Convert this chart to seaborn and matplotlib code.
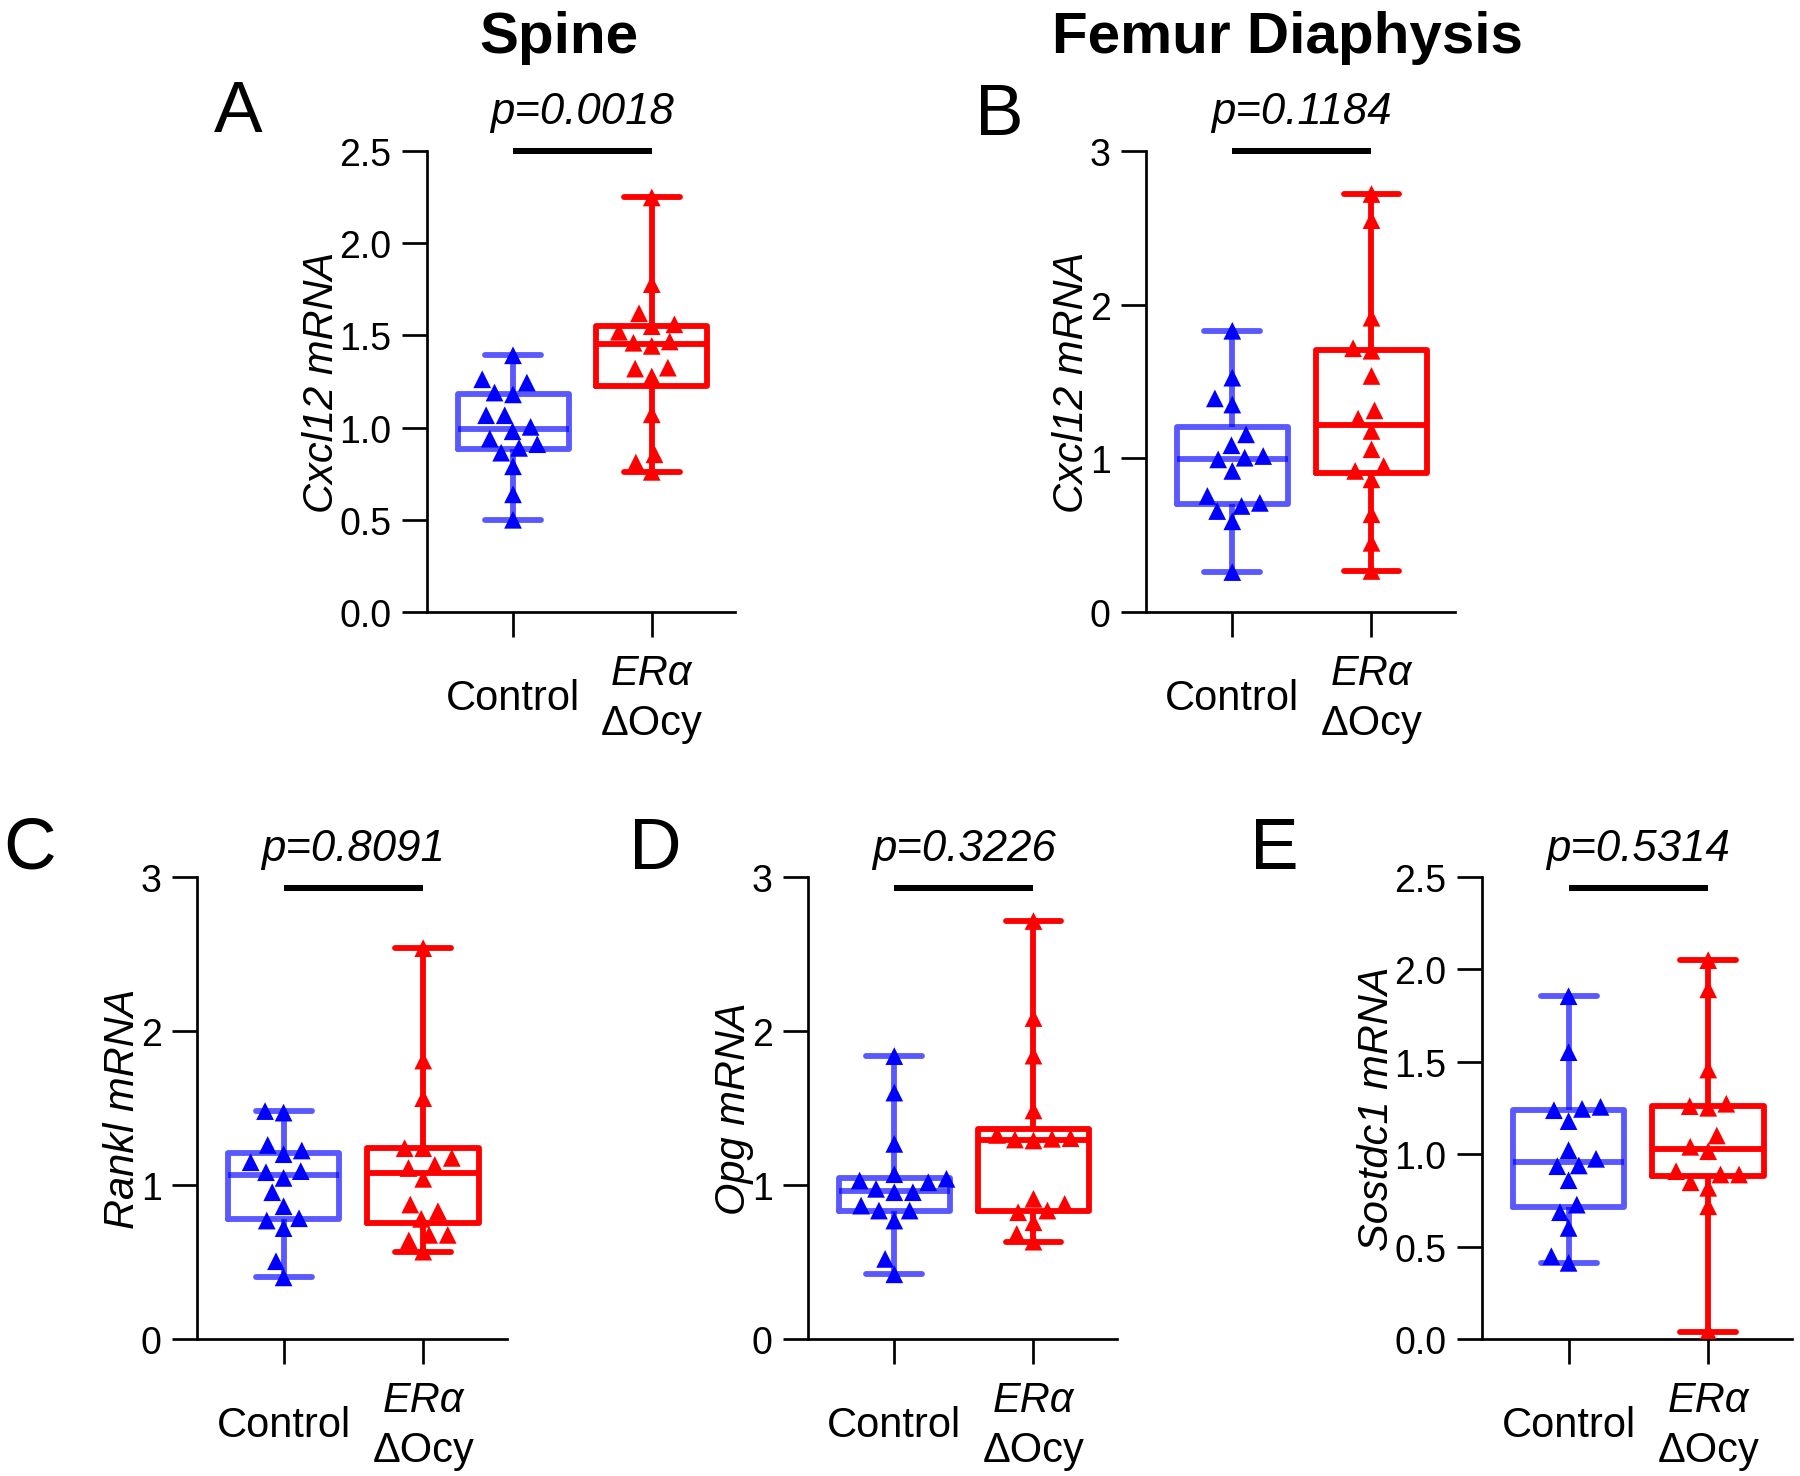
import matplotlib
matplotlib.use('Agg')
import matplotlib.pyplot as plt
import matplotlib.colors as mcolors
from matplotlib.ticker import FormatStrFormatter
import pandas as pd
import seaborn as sns

# DATA (relative mRNA)
groups = ['Control', 'ERα ΔOcy']

spine_cxcl12_ctrl = [1.392, 1.244, 1.19, 1.262, 1.18, 1.067, 1.067, 1.004,
                     0.98, 0.91, 0.94, 0.89, 0.864, 0.79, 0.638, 0.5]
spine_cxcl12_ko = [2.248, 1.778, 1.62, 1.55, 1.56, 1.52, 1.46, 1.443,
                   1.467, 1.32, 1.277, 1.325, 1.072, 0.855, 0.81, 0.76]

femur_cxcl12_ctrl = [1.83, 1.525, 1.39, 1.35, 1.156, 1.085, 0.993, 1.004,
                     1.015, 0.918, 0.755, 0.69, 0.71, 0.657, 0.59, 0.26]
femur_cxcl12_ko = [2.72, 2.55, 1.915, 1.716, 1.70, 1.536, 1.312, 1.258,
                   1.178, 1.059, 0.918, 0.95, 0.863, 0.636, 0.45, 0.267]

rankl_ctrl = [1.48, 1.47, 1.26, 1.20, 1.224, 1.148, 1.083, 1.09,
              1.046, 0.953, 0.862, 0.784, 0.769, 0.72, 0.505, 0.40]
rankl_ko = [2.538, 1.808, 1.564, 1.239, 1.239, 1.176, 1.13, 1.11,
            1.04, 0.873, 0.83, 0.78, 0.676, 0.676, 0.64, 0.567]

opg_ctrl = [1.837, 1.6, 1.267, 1.07, 1.04, 1.018, 1.029, 0.953,
            0.975, 0.953, 0.866, 0.834, 0.834, 0.769, 0.52, 0.42]
opg_ko = [2.714, 2.084, 1.84, 1.484, 1.30, 1.325, 1.289, 1.295,
          1.304, 0.91, 0.877, 0.834, 0.823, 0.758, 0.682, 0.632]

sostdc1_ctrl = [1.855, 1.552, 1.245, 1.256, 1.238, 1.179, 1.022, 0.975,
                0.939, 0.935, 0.859, 0.727, 0.686, 0.601, 0.448, 0.412]
sostdc1_ko = [2.05, 1.892, 1.458, 1.273, 1.251, 1.26, 1.101, 1.04,
              1.016, 0.908, 0.89, 0.89, 0.848, 0.818, 0.718, 0.04]

p_values = ['p=0.0018', 'p=0.1184', 'p=0.8091', 'p=0.3226', 'p=0.5314']

# STYLE
sns.set_theme(style="ticks")
plt.rcParams['font.family'] = ['Liberation Sans', 'DejaVu Sans']
for key in ['text.color', 'axes.labelcolor', 'xtick.color', 'ytick.color', 'axes.edgecolor']:
    plt.rcParams[key] = 'black'
pal = {'Control': '#0000ff', 'ERα ΔOcy': '#ff0000'}

W, H = 1800, 1477
fig = plt.figure(figsize=(W / 150, H / 150), dpi=150)


def rect(left, right, top, bottom):
    return [left / W, 1 - bottom / H, (right - left) / W, (bottom - top) / H]


def draw_panel(ax, ctrl, ko, ylabel, ymax, step, fmt, p_text, bar_y):
    df = pd.DataFrame({'group': [groups[0]] * len(ctrl) + [groups[1]] * len(ko),
                       'value': ctrl + ko})
    sns.boxplot(data=df, x='group', y='value', hue='group', order=groups,
                hue_order=groups, palette=pal, fill=False, width=0.8,
                whis=(0, 100), showfliers=False, linewidth=2.8, legend=False, ax=ax)
    # control box is drawn semi transparent
    for ln in list(ax.lines) + list(ax.patches):
        c = ln.get_color() if hasattr(ln, 'get_color') else ln.get_edgecolor()
        if mcolors.to_rgb(c) == (0.0, 0.0, 1.0):
            ln.set_alpha(0.65)
    sns.swarmplot(data=df, x='group', y='value', hue='group', order=groups,
                  hue_order=groups, palette=pal, marker='^', size=8.5,
                  legend=False, ax=ax, zorder=3)

    ax.set_xlim(-0.62, 1.6)
    ax.set_ylim(0, ymax)
    ax.set_yticks([i * step for i in range(int(round(ymax / step)) + 1)])
    ax.yaxis.set_major_formatter(FormatStrFormatter(fmt))
    ax.set_xticks([0, 1])
    ax.tick_params(axis='x', labelbottom=False)
    ax.tick_params(length=12, width=1.3, colors='black', labelsize=18, pad=5)
    ax.set_xlabel('')
    ax.set_ylabel(ylabel, fontsize=20, fontstyle='italic', labelpad=-1)
    sns.despine(ax=ax)
    for s in ['left', 'bottom']:
        ax.spines[s].set_linewidth(1.3)
        ax.spines[s].set_color('black')

    # category labels
    ax.annotate('Control', xy=(0, 0), xycoords=('data', 'axes fraction'),
                xytext=(0, -46.6), textcoords='offset points', ha='center',
                va='baseline', fontsize=20)
    ax.annotate('ERα', xy=(1, 0), xycoords=('data', 'axes fraction'),
                xytext=(0, -34.6), textcoords='offset points', ha='center',
                va='baseline', fontsize=20, fontstyle='italic')
    ax.annotate('ΔOcy', xy=(1, 0), xycoords=('data', 'axes fraction'),
                xytext=(0, -58.6), textcoords='offset points', ha='center',
                va='baseline', fontsize=20)

    # significance bar + p value
    ax.plot([0, 1], [bar_y, bar_y], color='black', lw=2.9, clip_on=False,
            solid_capstyle='butt')
    ax.annotate(p_text, xy=(0.5, bar_y), xytext=(0, 13.5),
                textcoords='offset points', ha='center', va='baseline',
                fontsize=21, fontstyle='italic')


ax_a = fig.add_axes(rect(427, 735, 152, 613))
draw_panel(ax_a, spine_cxcl12_ctrl, spine_cxcl12_ko, 'Cxcl12 mRNA',
           2.5, 0.5, '%.1f', p_values[0], 2.5)

ax_b = fig.add_axes(rect(1146, 1455, 152, 613))
draw_panel(ax_b, femur_cxcl12_ctrl, femur_cxcl12_ko, 'Cxcl12 mRNA',
           3, 1, '%d', p_values[1], 3.0)

ax_c = fig.add_axes(rect(197, 507, 878, 1340))
draw_panel(ax_c, rankl_ctrl, rankl_ko, 'Rankl mRNA',
           3, 1, '%d', p_values[2], 2.93)

ax_d = fig.add_axes(rect(808, 1117, 878, 1340))
draw_panel(ax_d, opg_ctrl, opg_ko, 'Opg mRNA',
           3, 1, '%d', p_values[3], 2.93)

ax_e = fig.add_axes(rect(1482, 1792, 878, 1340))
draw_panel(ax_e, sostdc1_ctrl, sostdc1_ko, 'Sostdc1 mRNA',
           2.5, 0.5, '%.1f', p_values[4], 2.44)

# column titles and panel letters
fig.text(559 / W, 1 - 53 / H, 'Spine', ha='center', va='baseline',
         fontsize=28, fontweight='bold')
fig.text(1287 / W, 1 - 53 / H, 'Femur Diaphysis', ha='center', va='baseline',
         fontsize=28, fontweight='bold')
for letter, x, y in [('A', 238, 132), ('B', 999, 135), ('C', 30, 869),
                     ('D', 655, 869), ('E', 1274, 869)]:
    fig.text(x / W, 1 - y / H, letter, ha='center', va='baseline', fontsize=35)

plt.savefig('out.png', dpi=150)
